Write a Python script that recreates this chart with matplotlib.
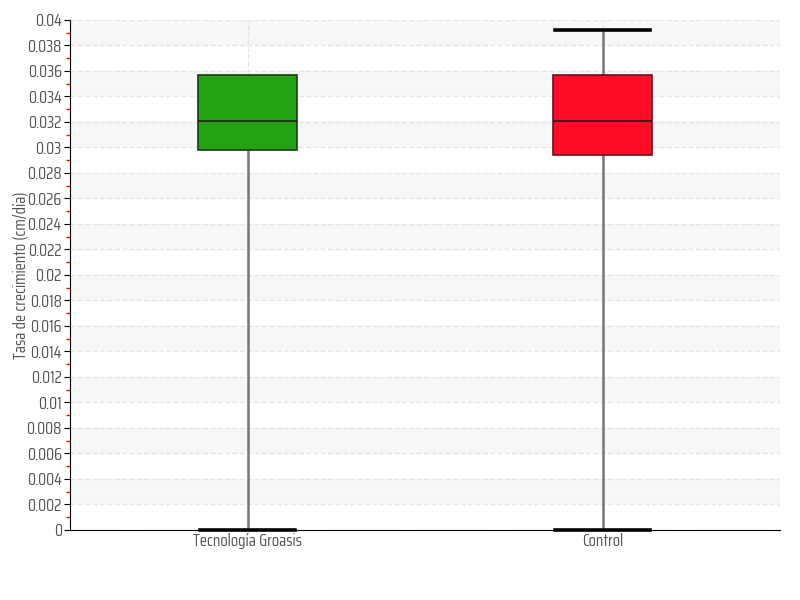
import matplotlib.pyplot as plt
from matplotlib.ticker import MultipleLocator

# valores (cm/día)
categorias = ["Tecnología Groasis", "Control"]
minimos = [0.0, 0.0]
q1 = [0.0298, 0.0294]
medianas = [0.0321, 0.0321]
q3 = [0.0357, 0.0357]
maximos = [0.0357, 0.0392]
colores = ["#22a410", "#ff0d26"]

plt.rcParams['font.family'] = ['Saira Condensed', 'DejaVu Sans']

fig = plt.figure(figsize=(8, 6), dpi=100)
ax = fig.add_axes([0.0875, 0.1167, 0.8875, 0.85])

# bandas alternas de fondo
y = 0.002
while y < 0.04:
    ax.axhspan(y, y + 0.002, color="#f7f7f7", zorder=0, lw=0)
    y += 0.004

stats = []
for i, nombre in enumerate(categorias):
    stats.append({
        "label": nombre, "whislo": minimos[i], "q1": q1[i], "med": medianas[i],
        "q3": q3[i], "whishi": maximos[i], "fliers": [],
    })

bp = ax.bxp(stats, positions=[0, 1], widths=0.28, patch_artist=True,
            showfliers=False,
            boxprops=dict(edgecolor="#1a3a1a", linewidth=1.2),
            medianprops=dict(color="#222222", linewidth=1.2),
            whiskerprops=dict(color="#777777", linewidth=1.8),
            capprops=dict(color="black", linewidth=2.6), capwidths=0.27)
for caja, c in zip(bp["boxes"], colores):
    caja.set_facecolor(c)
    caja.set_zorder(5)
bp["boxes"][1].set_edgecolor("#6b1020")
for m in bp["medians"]:
    m.set_zorder(6)
for cap in bp["caps"]:
    cap.set_clip_on(False)
    cap.set_zorder(4)
# el bigote superior del primer grupo coincide con Q3: queda oculto
for i in range(len(categorias)):
    if maximos[i] <= q3[i]:
        bp["caps"][2 * i + 1].set_visible(False)

ax.set_xlim(-0.5, 1.5)
ax.set_ylim(0, 0.04)
ax.yaxis.set_major_locator(MultipleLocator(0.002))
ax.yaxis.set_minor_locator(MultipleLocator(0.001))
ax.set_yticklabels([("%g" % v) for v in ax.get_yticks()])

ax.grid(True, which="major", axis="both", color="#e6e6e6", linestyle="--", linewidth=1, zorder=1)
ax.set_axisbelow(True)

for s in ["top", "right"]:
    ax.spines[s].set_visible(False)
ax.spines["left"].set_color("black")
ax.spines["bottom"].set_color("black")

ax.tick_params(axis="y", which="major", length=4, color="black", labelsize=12, labelcolor="#555555", pad=2)
ax.tick_params(axis="y", which="minor", length=3, color="red", width=1)
ax.tick_params(axis="x", length=0, labelsize=12, labelcolor="#555555", pad=2)

ax.set_ylabel("Tasa de crecimiento (cm/día)", fontsize=12, color="#555555")
ax.yaxis.set_label_coords(-0.058, 0.5)

fig.savefig("out.png", dpi=100)
